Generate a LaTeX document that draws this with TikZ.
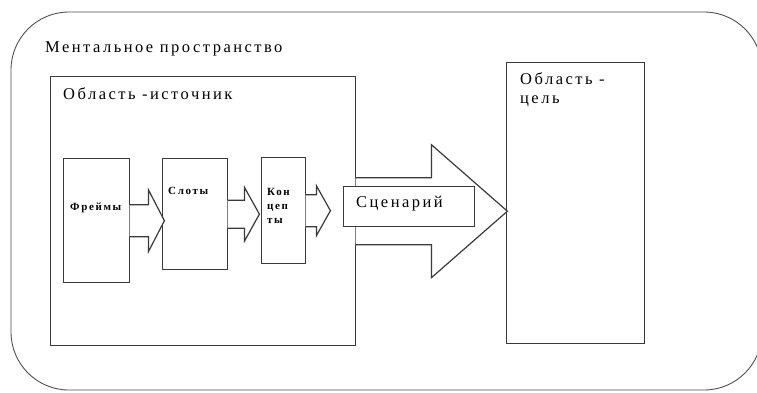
\documentclass[tikz,border=0pt]{standalone}
\usepackage{fontspec}
\setmainfont{Liberation Serif}
\newfontfamily\widefont[LetterSpace=15]{Liberation Serif}
\usepackage{tikz}

\definecolor{linegray}{HTML}{3A3A3A}
\definecolor{outgray}{HTML}{505050}
\tikzset{
  box/.style={draw=linegray, line width=1.4pt, fill=white, inner sep=0pt, anchor=north west},
  arrowline/.style={draw=linegray, line width=1.2pt, fill=white, line join=miter},
  biglbl/.style={inner sep=0pt, anchor=base west, font=\widefont\fontsize{16.5}{19}\selectfont},
  smalllbl/.style={inner sep=0pt, anchor=base west, font=\widefont\fontsize{11}{13}\selectfont\bfseries}
}
% block arrow out of the east side of a box: node, body half, head half, head base, tip
\newcommand{\blockarrow}[5]{%
  \filldraw[arrowline] ([xshift=-0.8pt,yshift=#2pt]#1.east) -- ([xshift=#4pt,yshift=#2pt]#1.east)
    -- ([xshift=#4pt,yshift=#3pt]#1.east) -- ([xshift=#5pt]#1.east)
    -- ([xshift=#4pt,yshift=-#3pt]#1.east) -- ([xshift=#4pt,yshift=-#2pt]#1.east)
    -- ([xshift=-0.8pt,yshift=-#2pt]#1.east);
}

\begin{document}
\begin{tikzpicture}[x=1pt, y=-1pt]
\useasboundingbox (0,0) rectangle (757,392);
% mental space
\draw[draw=outgray, line width=0.9pt, rounded corners=58pt] (11,12) rectangle (762,390);
\node[biglbl] (mental) at (45,52.7) {Ментальное пространство};

% source and target
\node[box, minimum width=305pt, minimum height=269pt] (src) at (50,76) {};
\node[biglbl] (srclbl) at (63,99) {Область -источник};
\node[box, minimum width=138pt, minimum height=281pt] (tgt) at (506,62) {};
\node[biglbl] (tgtlbl1) at (520,84) {Область -};
\node[biglbl] (tgtlbl2) at (520,103) {цель};

% scenario
\blockarrow{src}{33.5}{66.5}{75}{151}
\node[box, minimum width=131pt, minimum height=40pt] (scen) at (343,186) {};
\node[biglbl] (scenlbl) at (356,207) {Сценарий};

% frames, slots, concepts
\node[box, minimum width=66pt, minimum height=124pt] (frames) at (63,158) {};
\node[box, minimum width=65pt, minimum height=111pt] (slots) at (162,158) {};
\node[box, minimum width=44pt, minimum height=106pt] (concepts) at (261,157) {};
\blockarrow{frames}{16}{31}{18}{34}
\blockarrow{slots}{14}{27}{16}{31}
\blockarrow{concepts}{16}{25}{10}{24}
\node[smalllbl] (frameslbl) at (70,210) {Фреймы};
\node[smalllbl] (slotslbl) at (168,194) {Слоты};
\node[smalllbl] (conlbl1) at (267,195) {Кон};
\node[smalllbl] (conlbl2) at (267,209) {цеп};
\node[smalllbl] (conlbl3) at (267,223) {ты};
\end{tikzpicture}
\end{document}
